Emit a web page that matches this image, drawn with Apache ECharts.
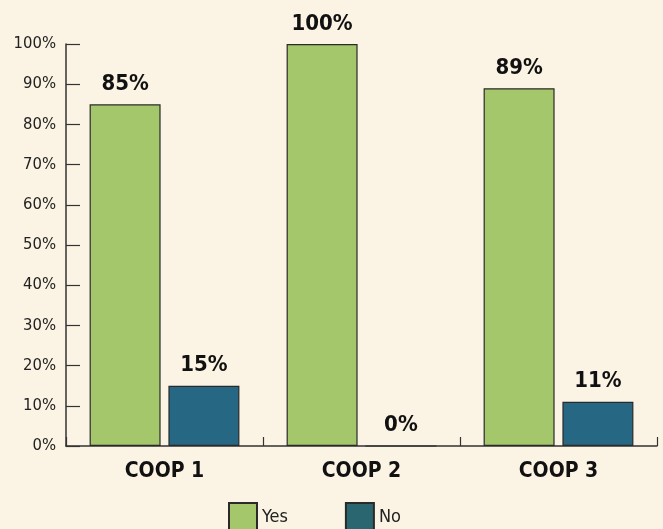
<!DOCTYPE html>
<html><head><meta charset="utf-8">
<script src="https://cdn.jsdelivr.net/npm/echarts@6/dist/echarts.min.js"></script>
<style>html,body{margin:0;padding:0;background:#fbf3e3;}#c{width:663px;height:529px;}</style>
</head><body><div id="c"></div>
<script>
const categories = ['COOP 1', 'COOP 2', 'COOP 3'];
const yesValues = [85, 100, 89];
const noValues = [15, 0, 11];
const seriesNames = ['Yes', 'No'];
const yTicks = [0, 10, 20, 30, 40, 50, 60, 70, 80, 90, 100];

const chart = echarts.init(document.getElementById('c'));
const condensed = '"Liberation Sans Narrow", "DejaVu Sans Condensed", "Roboto Condensed", sans-serif';
const lbl = {show: true, position: 'top', formatter: '{c}%', fontFamily: condensed, fontWeight: 'bold', fontSize: 22, color: '#111', distance: 9};
chart.setOption({
  backgroundColor: '#fbf3e3',
  animation: false,
  grid: {left: 66, right: 6, top: 44, bottom: 83},
  legend: {
    data: [
      {name: seriesNames[0]},
      {name: seriesNames[1], itemStyle: {color: '#2a6670'}}
    ],
    top: 502, left: 228, padding: 0, itemWidth: 28, itemHeight: 28, itemGap: 57,
    icon: 'rect',
    textStyle: {fontFamily: condensed, fontSize: 18, color: '#222'}
  },
  xAxis: {
    type: 'category', data: categories,
    axisLine: {lineStyle: {color: '#333', width: 1.5}},
    axisTick: {show: true, inside: true, length: 9, lineStyle: {color: '#333', width: 1.2}},
    axisLabel: {fontFamily: condensed, fontWeight: 'bold', fontSize: 21, color: '#111', margin: 15}
  },
  yAxis: {
    type: 'value', min: yTicks[0], max: yTicks[yTicks.length - 1], interval: 10,
    axisLine: {show: true, lineStyle: {color: '#333', width: 1.5}},
    axisTick: {show: true, inside: true, length: 14, lineStyle: {color: '#333', width: 1.2}},
    splitLine: {show: false},
    axisLabel: {formatter: '{value}%', fontFamily: condensed, fontSize: 16.5, color: '#222', margin: 10}
  },
  series: [
    {name: seriesNames[0], type: 'bar', data: yesValues, barWidth: 71, barGap: '11%',
     itemStyle: {color: '#a5c76b', borderColor: '#2a2a2a', borderWidth: 1.2}, label: lbl},
    {name: seriesNames[1], type: 'bar', data: noValues, barWidth: 71,
     itemStyle: {color: '#266884', borderColor: '#2a2a2a', borderWidth: 1.2}, label: lbl}
  ]
});
</script></body></html>
